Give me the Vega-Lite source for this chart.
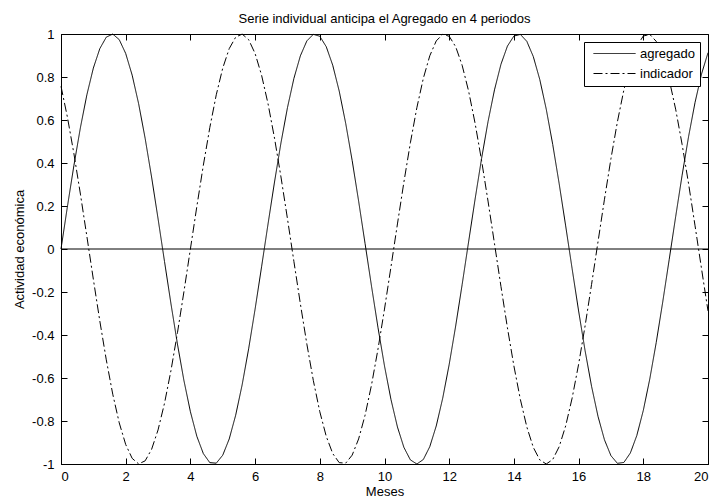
{
  "$schema": "https://vega.github.io/schema/vega-lite/v6.json",
  "autosize": "none",
  "width": 647,
  "height": 430,
  "padding": {"left": 61, "top": 34, "right": 5, "bottom": 33},
  "background": "white",
  "config": {
    "font": "Liberation Sans",
    "view": {"stroke": "black", "strokeWidth": 1},
    "axis": {"grid": false, "domainColor": "black", "tickColor": "black", "labelColor": "black", "titleColor": "black", "labelFontSize": 13, "titleFontSize": 13, "titleFontWeight": "normal", "tickSize": -6, "labelFont": "Liberation Sans", "titleFont": "Liberation Sans", "labelExpr": "'' + datum.value"}
  },
  "title": {"text": "Serie individual anticipa el Agregado en 4 periodos", "fontSize": 13, "fontWeight": "normal", "color": "black", "font": "Liberation Sans", "offset": 2, "anchor": "middle"},
  "resolve": {"axis": {"x": "independent", "y": "independent"}},
  "layer": [
    {
      "data": {"values": [
        {"x":0,"agregado":0,"indicador":0.7568},
        {"x":0.2,"agregado":0.1987,"indicador":0.6119},
        {"x":0.4,"agregado":0.3894,"indicador":0.4425},
        {"x":0.6,"agregado":0.5646,"indicador":0.2555},
        {"x":0.8,"agregado":0.7174,"indicador":0.0584},
        {"x":1.0,"agregado":0.8415,"indicador":-0.1411},
        {"x":1.2,"agregado":0.9320,"indicador":-0.3350},
        {"x":1.4,"agregado":0.9854,"indicador":-0.5155},
        {"x":1.6,"agregado":0.9996,"indicador":-0.6755},
        {"x":1.8,"agregado":0.9738,"indicador":-0.8085},
        {"x":2.0,"agregado":0.9093,"indicador":-0.9093},
        {"x":2.2,"agregado":0.8085,"indicador":-0.9738},
        {"x":2.4,"agregado":0.6755,"indicador":-0.9996},
        {"x":2.6,"agregado":0.5155,"indicador":-0.9854},
        {"x":2.8,"agregado":0.3350,"indicador":-0.9320},
        {"x":3.0,"agregado":0.1411,"indicador":-0.8415},
        {"x":3.2,"agregado":-0.0584,"indicador":-0.7174},
        {"x":3.4,"agregado":-0.2555,"indicador":-0.5646},
        {"x":3.6,"agregado":-0.4425,"indicador":-0.3894},
        {"x":3.8,"agregado":-0.6119,"indicador":-0.1987},
        {"x":4.0,"agregado":-0.7568,"indicador":0},
        {"x":4.2,"agregado":-0.8716,"indicador":0.1987},
        {"x":4.4,"agregado":-0.9516,"indicador":0.3894},
        {"x":4.6,"agregado":-0.9937,"indicador":0.5646},
        {"x":4.8,"agregado":-0.9962,"indicador":0.7174},
        {"x":5.0,"agregado":-0.9589,"indicador":0.8415},
        {"x":5.2,"agregado":-0.8835,"indicador":0.9320},
        {"x":5.4,"agregado":-0.7728,"indicador":0.9854},
        {"x":5.6,"agregado":-0.6313,"indicador":0.9996},
        {"x":5.8,"agregado":-0.4646,"indicador":0.9738},
        {"x":6.0,"agregado":-0.2794,"indicador":0.9093},
        {"x":6.2,"agregado":-0.0831,"indicador":0.8085},
        {"x":6.4,"agregado":0.1165,"indicador":0.6755},
        {"x":6.6,"agregado":0.3115,"indicador":0.5155},
        {"x":6.8,"agregado":0.4941,"indicador":0.3350},
        {"x":7.0,"agregado":0.6570,"indicador":0.1411},
        {"x":7.2,"agregado":0.7937,"indicador":-0.0584},
        {"x":7.4,"agregado":0.8987,"indicador":-0.2555},
        {"x":7.6,"agregado":0.9679,"indicador":-0.4425},
        {"x":7.8,"agregado":0.9985,"indicador":-0.6119},
        {"x":8.0,"agregado":0.9894,"indicador":-0.7568},
        {"x":8.2,"agregado":0.9407,"indicador":-0.8716},
        {"x":8.4,"agregado":0.8546,"indicador":-0.9516},
        {"x":8.6,"agregado":0.7344,"indicador":-0.9937},
        {"x":8.8,"agregado":0.5849,"indicador":-0.9962},
        {"x":9.0,"agregado":0.4121,"indicador":-0.9589},
        {"x":9.2,"agregado":0.2229,"indicador":-0.8835},
        {"x":9.4,"agregado":0.0248,"indicador":-0.7728},
        {"x":9.6,"agregado":-0.1743,"indicador":-0.6313},
        {"x":9.8,"agregado":-0.3665,"indicador":-0.4646},
        {"x":10.0,"agregado":-0.5440,"indicador":-0.2794},
        {"x":10.2,"agregado":-0.6999,"indicador":-0.0831},
        {"x":10.4,"agregado":-0.8278,"indicador":0.1165},
        {"x":10.6,"agregado":-0.9228,"indicador":0.3115},
        {"x":10.8,"agregado":-0.9809,"indicador":0.4941},
        {"x":11.0,"agregado":-1.0000,"indicador":0.6570},
        {"x":11.2,"agregado":-0.9792,"indicador":0.7937},
        {"x":11.4,"agregado":-0.9193,"indicador":0.8987},
        {"x":11.6,"agregado":-0.8228,"indicador":0.9679},
        {"x":11.8,"agregado":-0.6935,"indicador":0.9985},
        {"x":12.0,"agregado":-0.5366,"indicador":0.9894},
        {"x":12.2,"agregado":-0.3582,"indicador":0.9407},
        {"x":12.4,"agregado":-0.1656,"indicador":0.8546},
        {"x":12.6,"agregado":0.0336,"indicador":0.7344},
        {"x":12.8,"agregado":0.2315,"indicador":0.5849},
        {"x":13.0,"agregado":0.4202,"indicador":0.4121},
        {"x":13.2,"agregado":0.5921,"indicador":0.2229},
        {"x":13.4,"agregado":0.7402,"indicador":0.0248},
        {"x":13.6,"agregado":0.8592,"indicador":-0.1743},
        {"x":13.8,"agregado":0.9437,"indicador":-0.3665},
        {"x":14.0,"agregado":0.9906,"indicador":-0.5440},
        {"x":14.2,"agregado":0.9980,"indicador":-0.6999},
        {"x":14.4,"agregado":0.9657,"indicador":-0.8278},
        {"x":14.6,"agregado":0.8948,"indicador":-0.9228},
        {"x":14.8,"agregado":0.7883,"indicador":-0.9809},
        {"x":15.0,"agregado":0.6503,"indicador":-1.0000},
        {"x":15.2,"agregado":0.4864,"indicador":-0.9792},
        {"x":15.4,"agregado":0.3031,"indicador":-0.9193},
        {"x":15.6,"agregado":0.1078,"indicador":-0.8228},
        {"x":15.8,"agregado":-0.0919,"indicador":-0.6935},
        {"x":16.0,"agregado":-0.2879,"indicador":-0.5366},
        {"x":16.2,"agregado":-0.4724,"indicador":-0.3582},
        {"x":16.4,"agregado":-0.6381,"indicador":-0.1656},
        {"x":16.6,"agregado":-0.7784,"indicador":0.0336},
        {"x":16.8,"agregado":-0.8876,"indicador":0.2315},
        {"x":17.0,"agregado":-0.9614,"indicador":0.4202},
        {"x":17.2,"agregado":-0.9969,"indicador":0.5921},
        {"x":17.4,"agregado":-0.9927,"indicador":0.7402},
        {"x":17.6,"agregado":-0.9488,"indicador":0.8592},
        {"x":17.8,"agregado":-0.8672,"indicador":0.9437},
        {"x":18.0,"agregado":-0.7510,"indicador":0.9906},
        {"x":18.2,"agregado":-0.6048,"indicador":0.9980},
        {"x":18.4,"agregado":-0.4346,"indicador":0.9657},
        {"x":18.6,"agregado":-0.2470,"indicador":0.8948},
        {"x":18.8,"agregado":-0.0495,"indicador":0.7883},
        {"x":19.0,"agregado":0.1499,"indicador":0.6503},
        {"x":19.2,"agregado":0.3433,"indicador":0.4864},
        {"x":19.4,"agregado":0.5231,"indicador":0.3031},
        {"x":19.6,"agregado":0.6820,"indicador":0.1078},
        {"x":19.8,"agregado":0.8138,"indicador":-0.0919},
        {"x":20.0,"agregado":0.9129,"indicador":-0.2879}
      ]},
      "transform": [{"fold": ["agregado", "indicador"], "as": ["serie", "valor"]}],
      "mark": {"type": "line", "color": "black", "strokeWidth": 1},
      "encoding": {
        "x": {"field": "x", "type": "quantitative", "scale": {"domain": [0, 20], "nice": false, "zero": false},
              "axis": {"orient": "bottom", "values": [0,2,4,6,8,10,12,14,16,18,20], "title": "Meses", "labelPadding": 12, "titlePadding": 2}},
        "y": {"field": "valor", "type": "quantitative", "scale": {"domain": [-1, 1], "nice": false},
              "axis": {"orient": "left", "values": [-1,-0.8,-0.6,-0.4,-0.2,0,0.2,0.4,0.6,0.8,1], "title": "Actividad económica", "labelPadding": 13, "titlePadding": 5}},
        "strokeDash": {"field": "serie", "type": "nominal",
          "scale": {"domain": ["agregado", "indicador"], "range": [[1, 0], [9, 3, 2, 3]]},
          "legend": {"title": null, "orient": "none", "legendX": 523, "legendY": 8, "symbolType": "M-0.4,0H8", "symbolSize": 100, "symbolStrokeColor": "black", "symbolStrokeWidth": 1, "labelFontSize": 13, "labelColor": "black", "labelFont": "Liberation Sans", "fillColor": "white", "strokeColor": "black", "padding": 5, "rowPadding": 6, "labelOffset": 38}}
      }
    },
    {
      "data": {"values": [{"y": 0}]},
      "mark": {"type": "rule", "color": "black", "strokeWidth": 1},
      "encoding": {"y": {"field": "y", "type": "quantitative", "axis": null}}
    },
    {
      "data": {"values": [{"x": 0, "y": 0}]},
      "mark": {"type": "point", "opacity": 0},
      "encoding": {
        "x": {"field": "x", "type": "quantitative", "axis": {"orient": "top", "values": [0,2,4,6,8,10,12,14,16,18,20], "labels": false, "title": null, "domain": false}},
        "y": {"field": "y", "type": "quantitative", "axis": {"orient": "right", "values": [-1,-0.8,-0.6,-0.4,-0.2,0,0.2,0.4,0.6,0.8,1], "labels": false, "title": null, "domain": false}}
      }
    }
  ]
}
